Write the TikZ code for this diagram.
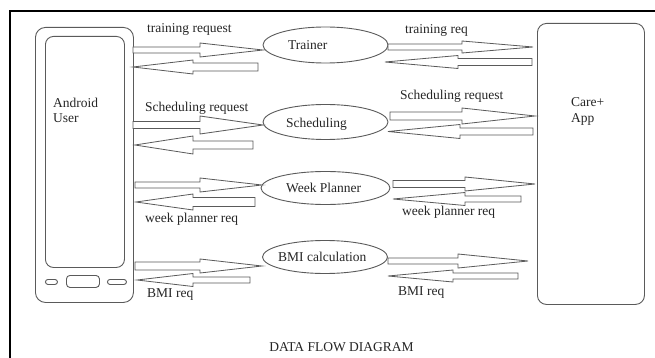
\documentclass[tikz,border=0pt]{standalone}
\usepackage{fontspec}
\setmainfont{Liberation Serif}
\usetikzlibrary{shapes.geometric}
\definecolor{ln}{HTML}{5A5A5A}
\tikzset{
  box/.style={draw=ln, line width=0.9pt, rounded corners=#1, anchor=north west, inner sep=0pt},
  proc/.style={draw=ln, line width=0.9pt, ellipse, inner sep=0pt, minimum width=125pt, minimum height=35pt},
  txt/.style={font=\fontsize{13.5}{15}\selectfont, inner sep=0pt, anchor=base west, text=black!85},
  barrow/.style={draw=ln, line width=0.8pt, fill=white, line join=miter}
}
% \barr{tail x}{head base x}{tip x}{y}{shaft half}{head half}
\newcommand\barr[6]{%
  \draw[barrow] (#1,#4-#5) -- (#2,#4-#5) -- (#2,#4-#6) -- (#3,#4) -- (#2,#4+#6) -- (#2,#4+#5) -- (#1,#4+#5) -- cycle;}
\begin{document}
\begin{tikzpicture}[x=1pt,y=-1pt]
\useasboundingbox (0,0) rectangle (655,358);
\fill[white] (0,0) rectangle (655,358);
\begin{scope}
\clip (0,0) rectangle (655,358);
\draw[line width=2.5pt, black] (10,11) rectangle (680,380);
\end{scope}
% phone
\node[box=10pt, minimum width=98pt, minimum height=275pt] (phone) at (35,27) {};
\node[box=8pt, minimum width=79pt, minimum height=231pt] (screen) at (45,36) {};
\node[box=2.5pt, minimum width=12pt, minimum height=5pt] (btnl) at (45,279) {};
\node[box=3.5pt, minimum width=33pt, minimum height=12pt] (btnc) at (66,275) {};
\node[box=2.5pt, minimum width=19pt, minimum height=5pt] (btnr) at (107,279) {};
\node[txt] (android) at (53,108) {Android};
\node[txt] (user) at (53,123) {User};
% app
\node[box=9pt, minimum width=107pt, minimum height=281pt] (app) at (537,23) {};
\node[txt] (care) at (571,107) {Care+};
\node[txt] (appl) at (571,123) {App};
% processes
\node[proc, minimum height=36pt] (trainer) at (325.5,45) {};
\node[txt] at (288,50) {Trainer};
\node[proc] (sched) at (325.5,122) {};
\node[txt] at (286,128) {Scheduling};
\node[proc, minimum width=129pt, minimum height=33pt] (week) at (325.5,188) {};
\node[txt] at (286,192) {Week Planner};
\node[proc, minimum height=33pt] (bmi) at (325,257) {};
\node[txt] at (278,261) {BMI calculation};
% arrows left
\barr{133}{200}{263}{50}{3}{7}
\barr{258}{193}{133}{67}{4}{7}
\barr{133}{200}{263}{125}{3.5}{9}
\barr{253}{193}{135}{145}{4}{9}
\barr{135}{200}{262}{185}{3}{7}
\barr{255}{193}{136}{202}{4.5}{8}
\barr{135}{200}{262}{266}{4}{7}
\barr{250}{193}{137}{280}{3}{6.5}
% arrows right
\barr{388}{462}{533}{47}{3}{6}
\barr{532}{458}{385}{62}{3.5}{6.5}
\barr{390}{462}{535}{116}{4}{8}
\barr{533}{460}{388}{131.5}{3.5}{7}
\barr{393}{465}{535}{184}{3.5}{7}
\barr{521}{465}{393}{199}{3}{6.5}
\barr{388}{458}{528}{261}{3}{7}
\barr{518}{453}{388}{276}{3}{6}
% labels
\node[txt] at (147,33) {training request};
\node[txt] at (405,34) {training req};
\node[txt] at (145,112) {Scheduling request};
\node[txt] at (400,100) {Scheduling request};
\node[txt] at (145,222) {week planner req};
\node[txt] at (402,215) {week planner req};
\node[txt] at (147,297) {BMI req};
\node[txt] at (398,295) {BMI req};
\node[txt, anchor=base] (title) at (341.5,351) {DATA FLOW DIAGRAM};
\end{tikzpicture}
\end{document}
